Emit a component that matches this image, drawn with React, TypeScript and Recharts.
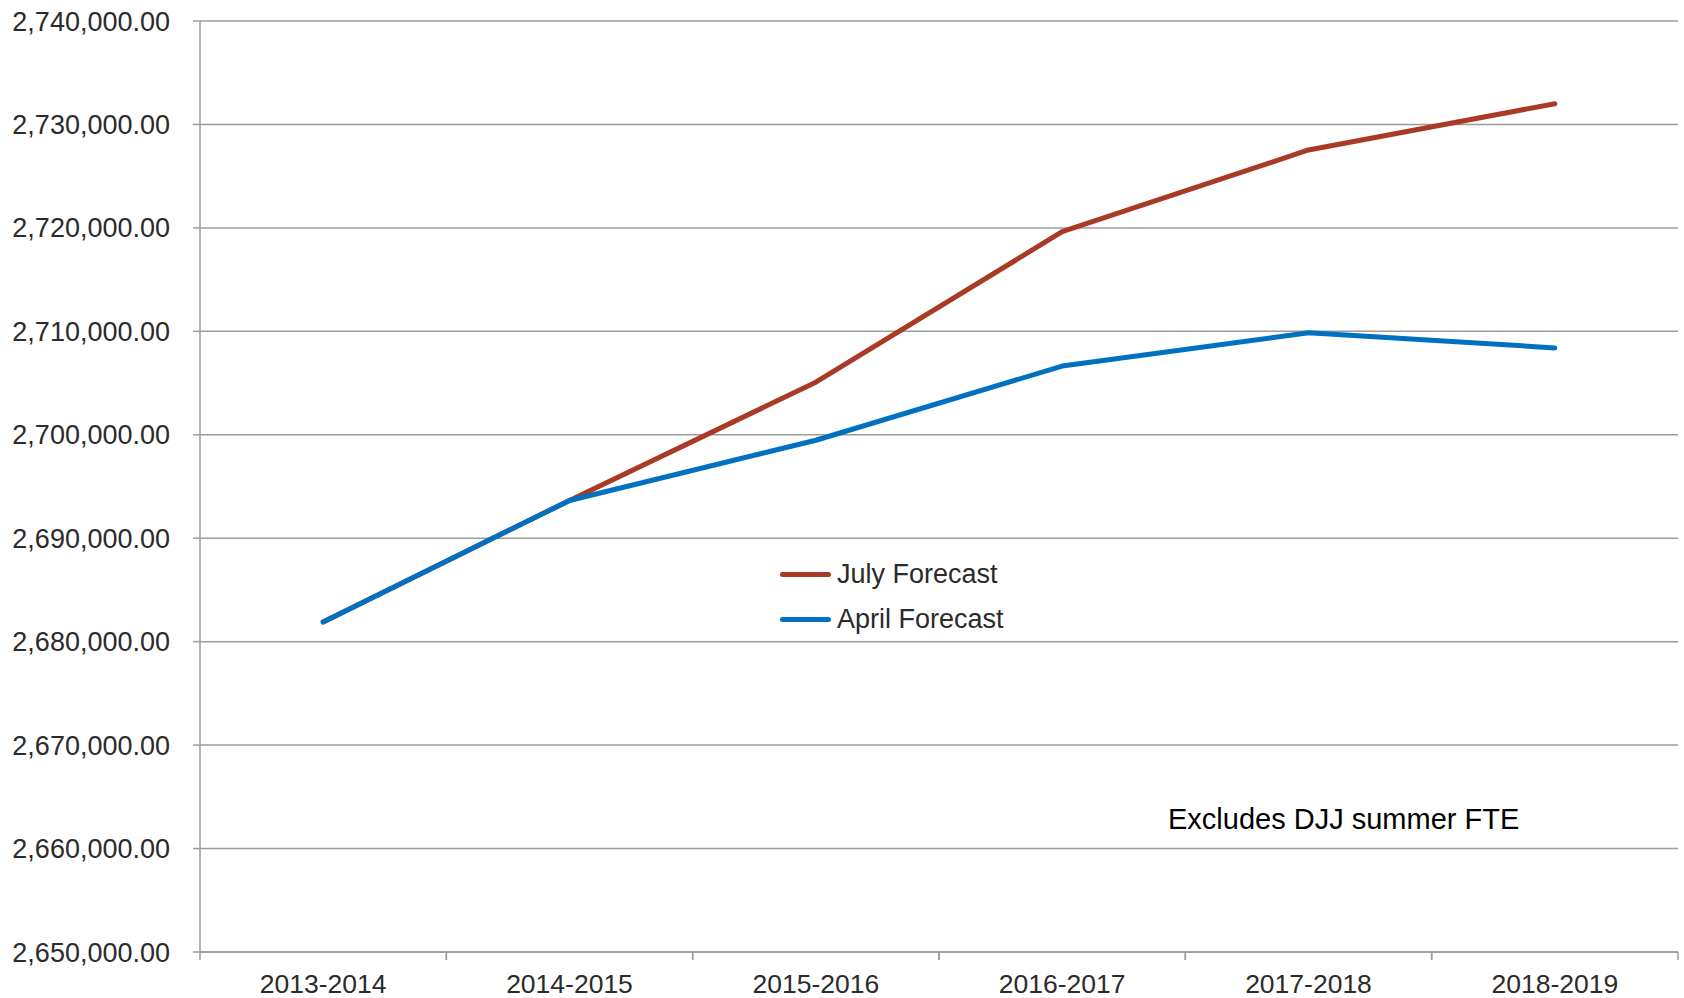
import { CartesianGrid, Legend, Line, LineChart, XAxis, YAxis } from "recharts";

const years = ["2013-2014", "2014-2015", "2015-2016", "2016-2017", "2017-2018", "2018-2019"];
const julyForecast = [2681900, 2693650, 2705080, 2719630, 2727530, 2732000];
const aprilForecast = [2681900, 2693650, 2699470, 2706640, 2709860, 2708400];
const yTicks = [2650000, 2660000, 2670000, 2680000, 2690000, 2700000, 2710000, 2720000, 2730000, 2740000];
const legendOrder = ["July Forecast", "April Forecast"];

const data = years.map((year, i) => ({ year, july: julyForecast[i], april: aprilForecast[i] }));

const GRID = "#9c9c9c";
const TEXT = "#2b2b2b";
const FONT = "'Liberation Sans', Arial, sans-serif";

const fmt = (v: number) =>
  Number(v).toLocaleString("en-US", { minimumFractionDigits: 2, maximumFractionDigits: 2 });

function CategoryTick({ x, y, payload }: any) {
  const half = payload?.offset ?? 0;
  return (
    <g>
      <line x1={x - half} x2={x - half} y1={y} y2={y + 8} stroke={GRID} strokeWidth={1.5} />
      <line x1={x + half} x2={x + half} y1={y} y2={y + 8} stroke={GRID} strokeWidth={1.5} />
      <text x={x} y={y + 22} dy="0.71em" textAnchor="middle" fill={TEXT} fontSize={26.5} fontFamily={FONT}>
        {payload.value}
      </text>
    </g>
  );
}

function LegendBox({ payload }: any) {
  const items = [...(payload || [])].sort(
    (a: any, b: any) => legendOrder.indexOf(a.value) - legendOrder.indexOf(b.value)
  );
  return (
    <div style={{ fontFamily: FONT, fontSize: 27, color: TEXT }}>
      {items.map((entry: any) => (
        <div key={entry.value} style={{ display: "flex", alignItems: "center", height: 45 }}>
          <span
            style={{
              display: "inline-block",
              width: 51,
              height: 5,
              borderRadius: 3,
              background: entry.color,
              marginRight: 6,
            }}
          />
          <span>{entry.value}</span>
        </div>
      ))}
    </div>
  );
}

export default function App() {
  return (
    <div style={{ position: "absolute", left: 0, top: 0, width: 1684, height: 998, background: "#fff" }}>
      <LineChart width={1684} height={998} data={data} margin={{ top: 21, right: 6, left: 0, bottom: 0 }}>
        <CartesianGrid horizontal vertical={false} stroke={GRID} strokeWidth={1.5} />
        <XAxis
          dataKey="year"
          scale="band"
          height={46}
          axisLine={{ stroke: GRID, strokeWidth: 1.5 }}
          tickLine={false}
          tickSize={0}
          tickMargin={0}
          interval={0}
          tick={<CategoryTick />}
        />
        <YAxis
          width={200}
          domain={[2650000, 2740000]}
          ticks={yTicks}
          interval={0}
          tickFormatter={fmt}
          axisLine={{ stroke: GRID, strokeWidth: 1.5 }}
          tickLine={{ stroke: GRID, strokeWidth: 1.5 }}
          tickSize={7}
          tickMargin={23}
          tick={{ fill: TEXT, fontSize: 27, fontFamily: FONT }}
        />
        <Legend
          layout="vertical"
          verticalAlign="middle"
          align="center"
          content={<LegendBox />}
          wrapperStyle={{ left: 780, top: 552, width: 260 }}
        />
        <Line
          dataKey="july"
          name="July Forecast"
          stroke="#a83a26"
          strokeWidth={5}
          strokeLinecap="round"
          strokeLinejoin="round"
          dot={false}
          activeDot={false}
          isAnimationActive={false}
        />
        <Line
          dataKey="april"
          name="April Forecast"
          stroke="#0070c0"
          strokeWidth={5}
          strokeLinecap="round"
          strokeLinejoin="round"
          dot={false}
          activeDot={false}
          isAnimationActive={false}
        />
      </LineChart>
      <div
        style={{
          position: "absolute",
          left: 1168,
          top: 803,
          fontFamily: FONT,
          fontSize: 29,
          color: "#000",
          whiteSpace: "nowrap",
        }}
      >
        Excludes DJJ summer FTE
      </div>
    </div>
  );
}
